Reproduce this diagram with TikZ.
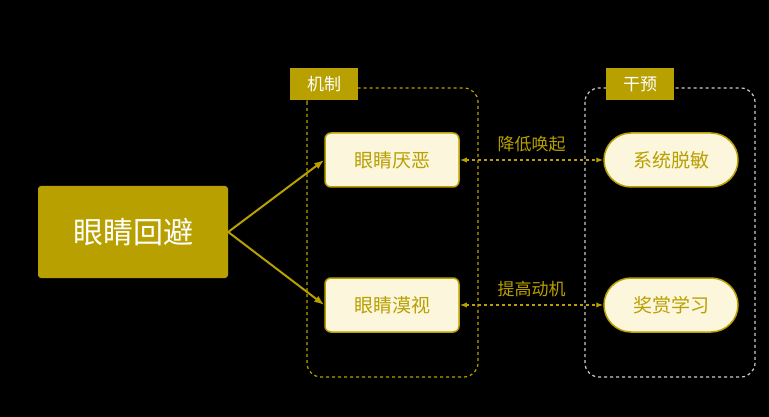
\documentclass[tikz,border=0pt]{standalone}
\usepackage{fontspec}
\setmainfont{Noto Sans CJK SC}
\usetikzlibrary{arrows.meta}
\definecolor{gold}{HTML}{B8A000}
\definecolor{cream}{HTML}{FBF6DC}
\tikzset{
  mech/.style={draw=gold, line width=1.5pt, fill=cream, text=gold, rounded corners=6pt,
    minimum width=134pt, minimum height=54pt, font=\fontsize{19}{19}\selectfont},
  cure/.style={mech, rounded corners=27pt},
  tag/.style={fill=gold, text=white, minimum width=68pt, minimum height=32pt, font=\fontsize{17}{17}\selectfont},
  frame/.style={dashed, line width=1.2pt, rounded corners=14pt},
  link/.style={dashed, gold, line width=1.5pt, {Latex[length=7pt]}-{Latex[length=7pt]}}
}
\begin{document}
\begin{tikzpicture}[x=1pt,y=-1pt]
				\fill[black] (0,0) rectangle (769,417);
				\useasboundingbox (0,0) rectangle (769,417);
				\draw[frame, gold] (307,88) rectangle (478,377);
				\draw[frame, white!80!black] (585,88) rectangle (755,377);
				\node[tag] (jz) at (324,84) {机制};
				\node[tag] (gy) at (640,84) {干预};

				\node[fill=gold, text=white, rounded corners=3pt, minimum width=190pt, minimum height=92pt,
				  font=\fontsize{30}{30}\selectfont] (hb) at (133,232) {眼睛回避};
				\node[mech] (ey) at (392,160) {眼睛厌恶};
				\node[mech] (ms) at (392,305) {眼睛漠视};
				\node[cure] (tm) at (671,160) {系统脱敏};
				\node[cure] (js) at (671,305) {奖赏学习};

				\draw[gold, line width=2pt, -{Latex[length=10pt]}] (hb.east) to (ey.west);
				\draw[gold, line width=2pt, -{Latex[length=10pt]}] (hb.east) to (ms.west);
				\draw[link] (ey) to node[above=4pt, text=gold, font=\fontsize{17}{17}\selectfont]{降低唤起} (tm);
				\draw[link] (ms) to node[above=4pt, text=gold, font=\fontsize{17}{17}\selectfont]{提高动机} (js);
			\end{tikzpicture}
\end{document}
